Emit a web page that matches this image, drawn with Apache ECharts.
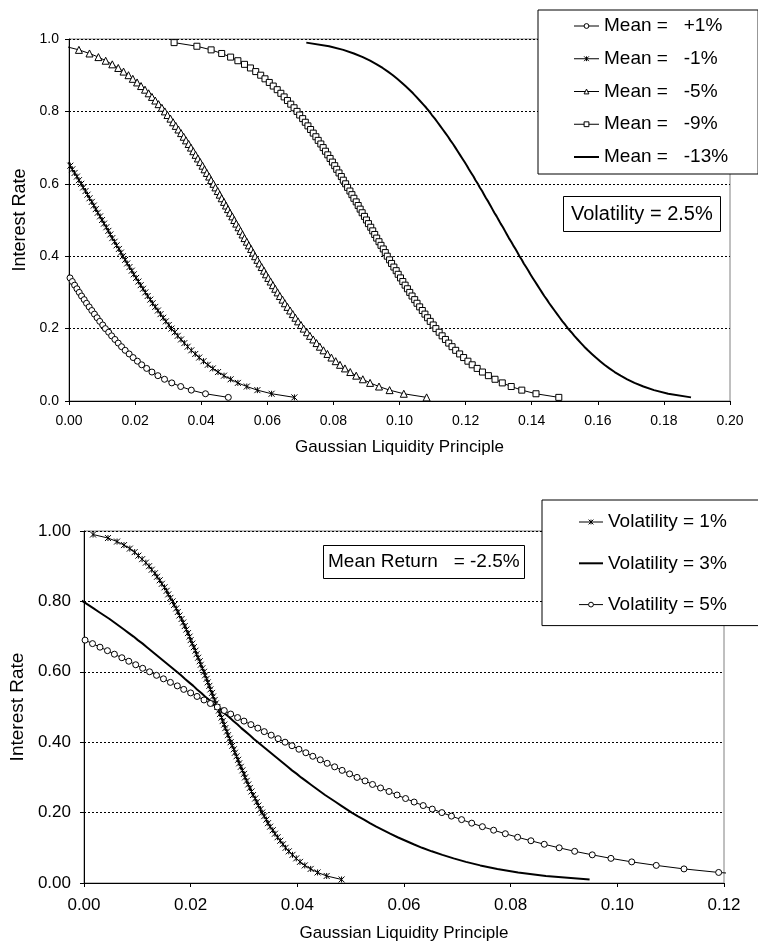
<!DOCTYPE html>
<html>
<head>
<meta charset="utf-8">
<script src="https://cdn.jsdelivr.net/npm/echarts@6/dist/echarts.min.js"></script>
<style>
html, body { margin: 0; padding: 0; background: #fff; }
#chart { width: 758px; height: 944px; }
</style>
</head>
<body>
<div id="chart"></div>
<script>
// interest rate levels, top to bottom (each curve ends at 0.01)
var rateLevels = [
  0.99, 0.98, 0.97, 0.96, 0.95, 0.94, 0.93, 0.92, 0.91, 0.90,
  0.89, 0.88, 0.87, 0.86, 0.85, 0.84, 0.83, 0.82, 0.81, 0.80,
  0.79, 0.78, 0.77, 0.76, 0.75, 0.74, 0.73, 0.72, 0.71, 0.70,
  0.69, 0.68, 0.67, 0.66, 0.65, 0.64, 0.63, 0.62, 0.61, 0.60,
  0.59, 0.58, 0.57, 0.56, 0.55, 0.54, 0.53, 0.52, 0.51, 0.50,
  0.49, 0.48, 0.47, 0.46, 0.45, 0.44, 0.43, 0.42, 0.41, 0.40,
  0.39, 0.38, 0.37, 0.36, 0.35, 0.34, 0.33, 0.32, 0.31, 0.30,
  0.29, 0.28, 0.27, 0.26, 0.25, 0.24, 0.23, 0.22, 0.21, 0.20,
  0.19, 0.18, 0.17, 0.16, 0.15, 0.14, 0.13, 0.12, 0.11, 0.10,
  0.09, 0.08, 0.07, 0.06, 0.05, 0.04, 0.03, 0.02, 0.01
];

// top chart: volatility 2.5%, liquidity x for each rate level
var meanNames = ['Mean =   +1%', 'Mean =   -1%', 'Mean =   -5%', 'Mean =   -9%', 'Mean =   -13%'];

var meanPlus1 = [-0.0004, 0.0003, 0.0010, 0.0017, 0.0024, 0.0031, 0.0038, 0.0046, 0.0053, 0.0061,
  0.0069, 0.0077, 0.0085, 0.0093, 0.0102, 0.0110, 0.0120, 0.0129, 0.0139, 0.0149,
  0.0159, 0.0170, 0.0182, 0.0194, 0.0207, 0.0220, 0.0235, 0.0251, 0.0269, 0.0289,
  0.0311, 0.0338, 0.0370, 0.0413, 0.0482];

var meanMinus1 = [-0.0003, 0.0004, 0.0010, 0.0017, 0.0024, 0.0030, 0.0037, 0.0043, 0.0050, 0.0056,
  0.0062, 0.0069, 0.0075, 0.0081, 0.0087, 0.0094, 0.0100,
  0.0106, 0.0113, 0.0119, 0.0125, 0.0131, 0.0138, 0.0144, 0.0151, 0.0157, 0.0163,
  0.0170, 0.0176, 0.0183, 0.0190, 0.0196, 0.0203, 0.0210, 0.0217, 0.0224, 0.0231,
  0.0238, 0.0246, 0.0253, 0.0261, 0.0269, 0.0277, 0.0285, 0.0293, 0.0302, 0.0310,
  0.0320, 0.0329, 0.0339, 0.0349, 0.0359, 0.0370, 0.0382, 0.0394, 0.0407, 0.0420,
  0.0435, 0.0451, 0.0469, 0.0489, 0.0511, 0.0538, 0.0570, 0.0613, 0.0682];

var meanMinus5 = [-0.0013, 0.0030, 0.0062, 0.0089, 0.0111, 0.0131, 0.0149, 0.0165, 0.0180,
  0.0193, 0.0206, 0.0218, 0.0230, 0.0241, 0.0251, 0.0261, 0.0271, 0.0281, 0.0290,
  0.0298, 0.0307, 0.0315, 0.0323, 0.0331, 0.0339, 0.0347, 0.0354, 0.0362, 0.0369,
  0.0376, 0.0383, 0.0390, 0.0397, 0.0404, 0.0410, 0.0417, 0.0424, 0.0430, 0.0437,
  0.0443, 0.0450, 0.0456, 0.0462, 0.0469, 0.0475, 0.0481, 0.0487, 0.0494, 0.0500,
  0.0506, 0.0513, 0.0519, 0.0525, 0.0531, 0.0538, 0.0544, 0.0551, 0.0557, 0.0563,
  0.0570, 0.0576, 0.0583, 0.0590, 0.0596, 0.0603, 0.0610, 0.0617, 0.0624, 0.0631,
  0.0638, 0.0646, 0.0653, 0.0661, 0.0669, 0.0677, 0.0685, 0.0693, 0.0702, 0.0710,
  0.0720, 0.0729, 0.0739, 0.0749, 0.0759, 0.0770, 0.0782, 0.0794, 0.0807, 0.0820,
  0.0835, 0.0851, 0.0869, 0.0889, 0.0911, 0.0938, 0.0970, 0.1013, 0.1082];

var meanMinus9 = [0.0318, 0.0387, 0.0430, 0.0462, 0.0489, 0.0511, 0.0531, 0.0549, 0.0565, 0.0580,
  0.0593, 0.0606, 0.0618, 0.0630, 0.0641, 0.0651, 0.0661, 0.0671, 0.0681, 0.0690,
  0.0698, 0.0707, 0.0715, 0.0723, 0.0731, 0.0739, 0.0747, 0.0754, 0.0762, 0.0769,
  0.0776, 0.0783, 0.0790, 0.0797, 0.0804, 0.0810, 0.0817, 0.0824, 0.0830, 0.0837,
  0.0843, 0.0850, 0.0856, 0.0862, 0.0869, 0.0875, 0.0881, 0.0887, 0.0894, 0.0900,
  0.0906, 0.0913, 0.0919, 0.0925, 0.0931, 0.0938, 0.0944, 0.0951, 0.0957, 0.0963,
  0.0970, 0.0976, 0.0983, 0.0990, 0.0996, 0.1003, 0.1010, 0.1017, 0.1024, 0.1031,
  0.1038, 0.1046, 0.1053, 0.1061, 0.1069, 0.1077, 0.1085, 0.1093, 0.1102, 0.1110,
  0.1120, 0.1129, 0.1139, 0.1149, 0.1159, 0.1170, 0.1182, 0.1194, 0.1207, 0.1220,
  0.1235, 0.1251, 0.1269, 0.1289, 0.1311, 0.1338, 0.1370, 0.1413, 0.1482];

var meanMinus13 = [0.0718, 0.0787, 0.0830, 0.0862, 0.0889, 0.0911, 0.0931, 0.0949, 0.0965, 0.0980,
  0.0993, 0.1006, 0.1018, 0.1030, 0.1041, 0.1051, 0.1061, 0.1071, 0.1081, 0.1090,
  0.1098, 0.1107, 0.1115, 0.1123, 0.1131, 0.1139, 0.1147, 0.1154, 0.1162, 0.1169,
  0.1176, 0.1183, 0.1190, 0.1197, 0.1204, 0.1210, 0.1217, 0.1224, 0.1230, 0.1237,
  0.1243, 0.1250, 0.1256, 0.1262, 0.1269, 0.1275, 0.1281, 0.1287, 0.1294, 0.1300,
  0.1306, 0.1313, 0.1319, 0.1325, 0.1331, 0.1338, 0.1344, 0.1351, 0.1357, 0.1363,
  0.1370, 0.1376, 0.1383, 0.1390, 0.1396, 0.1403, 0.1410, 0.1417, 0.1424, 0.1431,
  0.1438, 0.1446, 0.1453, 0.1461, 0.1469, 0.1477, 0.1485, 0.1493, 0.1502, 0.1510,
  0.1520, 0.1529, 0.1539, 0.1549, 0.1559, 0.1570, 0.1582, 0.1594, 0.1607, 0.1620,
  0.1635, 0.1651, 0.1669, 0.1689, 0.1711, 0.1738, 0.1770, 0.1813, 0.1882];

// bottom chart: mean return -2.5%
var volNames = ['Volatility = 1%', 'Volatility = 3%', 'Volatility = 5%'];

var vol1 = [0.0017, 0.0045, 0.0062, 0.0075, 0.0086, 0.0095, 0.0102, 0.0109, 0.0116, 0.0122,
  0.0127, 0.0133, 0.0137, 0.0142, 0.0146, 0.0151, 0.0155, 0.0158, 0.0162, 0.0166,
  0.0169, 0.0173, 0.0176, 0.0179, 0.0183, 0.0186, 0.0189, 0.0192, 0.0195, 0.0198,
  0.0200, 0.0203, 0.0206, 0.0209, 0.0211, 0.0214, 0.0217, 0.0219, 0.0222, 0.0225,
  0.0227, 0.0230, 0.0232, 0.0235, 0.0237, 0.0240, 0.0242, 0.0245, 0.0247, 0.0250,
  0.0253, 0.0255, 0.0258, 0.0260, 0.0263, 0.0265, 0.0268, 0.0270, 0.0273, 0.0275,
  0.0278, 0.0281, 0.0283, 0.0286, 0.0289, 0.0291, 0.0294, 0.0297, 0.0300, 0.0302,
  0.0305, 0.0308, 0.0311, 0.0314, 0.0317, 0.0321, 0.0324, 0.0327, 0.0331, 0.0334,
  0.0338, 0.0342, 0.0345, 0.0349, 0.0354, 0.0358, 0.0363, 0.0368, 0.0373, 0.0378,
  0.0384, 0.0391, 0.0398, 0.0405, 0.0414, 0.0425, 0.0438, 0.0455, 0.0483];

var vol3 = [-0.0013, -0.0002,
  0.0008, 0.0018, 0.0028, 0.0038, 0.0048, 0.0057, 0.0066, 0.0075, 0.0084, 0.0093,
  0.0101, 0.0110, 0.0118, 0.0126, 0.0134, 0.0142, 0.0150, 0.0158, 0.0166, 0.0174,
  0.0182, 0.0189, 0.0197, 0.0205, 0.0212, 0.0220, 0.0227, 0.0235, 0.0242, 0.0250,
  0.0258, 0.0265, 0.0273, 0.0280, 0.0288, 0.0295, 0.0303, 0.0311, 0.0318, 0.0326,
  0.0334, 0.0342, 0.0350, 0.0358, 0.0366, 0.0374, 0.0382, 0.0390, 0.0399, 0.0407,
  0.0416, 0.0425, 0.0434, 0.0443, 0.0452, 0.0462, 0.0472, 0.0482, 0.0492, 0.0502,
  0.0513, 0.0525, 0.0536, 0.0548, 0.0561, 0.0574, 0.0588, 0.0603, 0.0618, 0.0634,
  0.0652, 0.0672, 0.0693, 0.0716, 0.0743, 0.0775, 0.0814, 0.0866, 0.0948];

var vol5 = [-0.0012,
  0.0002, 0.0016, 0.0030, 0.0044, 0.0057, 0.0071, 0.0084, 0.0097, 0.0110, 0.0123,
  0.0136, 0.0149, 0.0162, 0.0175, 0.0187, 0.0200, 0.0212, 0.0225, 0.0237, 0.0250,
  0.0263, 0.0275, 0.0288, 0.0300, 0.0313, 0.0326, 0.0338, 0.0351, 0.0364, 0.0377,
  0.0390, 0.0403, 0.0416, 0.0429, 0.0443, 0.0456, 0.0470, 0.0484, 0.0498, 0.0512,
  0.0527, 0.0541, 0.0556, 0.0572, 0.0587, 0.0603, 0.0619, 0.0636, 0.0653, 0.0671,
  0.0689, 0.0708, 0.0727, 0.0747, 0.0768, 0.0790, 0.0813, 0.0838, 0.0863, 0.0891,
  0.0920, 0.0953, 0.0988, 0.1027, 0.1073, 0.1125, 0.1190, 0.1277, 0.1413];

var FONT = '"Liberation Sans", Arial, sans-serif';
var star = 'path://M0,0L10,10M10,0L0,10M5,0L5,10';

// pair each x list with the last rate levels
function pairs(xs) {
  var start = rateLevels.length - xs.length;
  return xs.map(function (x, i) { return [x, rateLevels[start + i]]; });
}

function markerLine(name, xs, symbol, size, idx) {
  return {
    name: name, type: 'line', xAxisIndex: idx, yAxisIndex: idx,
    data: pairs(xs), symbol: symbol, symbolSize: size,
    lineStyle: { color: '#000', width: 1 },
    itemStyle: { color: '#fff', borderColor: '#000', borderWidth: 1 },
    emphasis: { disabled: true }
  };
}

function plainLine(name, xs, idx) {
  return {
    name: name, type: 'line', xAxisIndex: idx, yAxisIndex: idx,
    data: pairs(xs), symbol: 'none',
    lineStyle: { color: '#000', width: 2 },
    itemStyle: { color: '#000' },
    emphasis: { disabled: true }
  };
}

function xAxisOf(idx, max, gap, labelSize, margin) {
  return {
    gridIndex: idx, type: 'value', min: 0, max: max, interval: 0.02,
    name: 'Gaussian Liquidity Principle', nameLocation: 'middle', nameGap: gap,
    nameTextStyle: { fontFamily: FONT, fontSize: 17, color: '#000' },
    axisLine: { onZero: false, lineStyle: { color: '#000', width: 1 } },
    axisTick: { length: 4, lineStyle: { color: '#000' } },
    axisLabel: { fontFamily: FONT, fontSize: labelSize, color: '#000', margin: margin,
      showMinLabel: true, showMaxLabel: true,
      formatter: function (v) { return v.toFixed(2); } },
    splitLine: { show: false }
  };
}

function yAxisOf(idx, digits, gap, nameSize, labelSize, margin) {
  return {
    gridIndex: idx, type: 'value', min: 0, max: 1, interval: 0.2,
    name: 'Interest Rate', nameLocation: 'middle', nameGap: gap, nameRotate: 90,
    nameTextStyle: { fontFamily: FONT, fontSize: nameSize, color: '#000' },
    axisLine: { show: true, onZero: false, lineStyle: { color: '#000', width: 1 } },
    axisTick: { show: true, length: 4, lineStyle: { color: '#000' } },
    axisLabel: { fontFamily: FONT, fontSize: labelSize, color: '#000', margin: margin,
      showMinLabel: true, showMaxLabel: true,
      formatter: function (v) { return v.toFixed(digits); } },
    splitLine: { show: true, lineStyle: { color: '#000', width: 1, type: [2, 2] } }
  };
}

var legendText = { fontFamily: FONT, fontSize: 19, color: '#000', lineHeight: 20 };

var myChart = echarts.init(document.getElementById('chart'));
myChart.setOption({
  animation: false,
  backgroundColor: '#fff',
  grid: [
    { left: 69, top: 39, width: 661, height: 362, show: true, borderColor: '#808080', borderWidth: 1 },
    { left: 82, top: 531, width: 642, height: 352, show: true, borderColor: '#808080', borderWidth: 1 }
  ],
  xAxis: [xAxisOf(0, 0.2, 38, 14, 13), xAxisOf(1, 0.12, 42, 17, 14)],
  yAxis: [yAxisOf(0, 1, 36, 18, 14, 10), yAxisOf(1, 2, 53, 19, 17, 13)],
  title: [
    { text: 'Volatility = 2.5%', left: 563, top: 196, padding: [7, 8, 7, 8],
      borderColor: '#000', borderWidth: 1, backgroundColor: '#fff',
      textStyle: { fontFamily: FONT, fontSize: 20, fontWeight: 'normal', color: '#000', lineHeight: 22 } },
    { text: 'Mean Return   = -2.5%', left: 323, top: 545, padding: [7, 5, 7, 5],
      borderColor: '#000', borderWidth: 1, backgroundColor: '#fff',
      textStyle: { fontFamily: FONT, fontSize: 19, fontWeight: 'normal', color: '#000', lineHeight: 20 } }
  ],
  legend: [
    { left: 538, top: 10, orient: 'vertical', align: 'left', selectedMode: false,
      padding: [6, 30, 7, 35], itemGap: 12.75, itemWidth: 25, itemHeight: 6,
      borderColor: '#000', borderWidth: 1, backgroundColor: '#fff',
      textStyle: legendText, itemStyle: { borderWidth: 1 }, lineStyle: { width: 1 },
      data: [meanNames[0], meanNames[1], meanNames[2], meanNames[3],
        { name: meanNames[4], itemStyle: { opacity: 0 }, lineStyle: { width: 2 } }] },
    { left: 542, top: 500, orient: 'vertical', align: 'left', selectedMode: false,
      padding: [12, 32, 11, 36], itemGap: 21.3, itemWidth: 24, itemHeight: 6,
      borderColor: '#000', borderWidth: 1, backgroundColor: '#fff',
      textStyle: legendText, itemStyle: { borderWidth: 1 }, lineStyle: { width: 1 },
      data: [volNames[0],
        { name: volNames[1], itemStyle: { opacity: 0 }, lineStyle: { width: 2 } },
        volNames[2]] }
  ],
  series: [
    markerLine(meanNames[0], meanPlus1, 'circle', 6, 0),
    markerLine(meanNames[1], meanMinus1, star, 6, 0),
    markerLine(meanNames[2], meanMinus5, 'triangle', 7, 0),
    markerLine(meanNames[3], meanMinus9, 'rect', 6, 0),
    plainLine(meanNames[4], meanMinus13, 0),
    markerLine(volNames[0], vol1, star, 6, 1),
    plainLine(volNames[1], vol3, 1),
    markerLine(volNames[2], vol5, 'circle', 6, 1)
  ]
});

window.addEventListener('resize', function () {
  myChart.resize();
});
</script>
</body>
</html>
